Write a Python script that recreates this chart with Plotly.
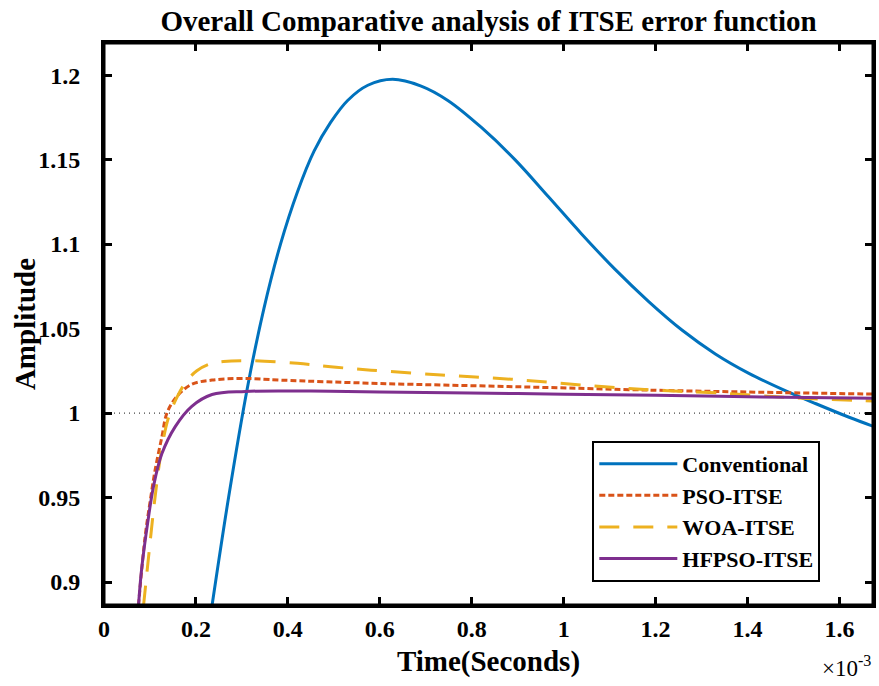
import plotly.graph_objects as go

# Time values in units of 1e-3 s
conv_t = [0.235, 0.271, 0.312, 0.348, 0.384, 0.421, 0.457, 0.493, 0.530, 0.574, 0.628, 0.690,
          0.748, 0.821, 0.894, 0.967, 1.039, 1.112, 1.185, 1.258, 1.330, 1.403, 1.476, 1.549, 1.621, 1.680]
conv_y = [0.886, 0.950, 1.015, 1.062, 1.100, 1.131, 1.155, 1.172, 1.185, 1.194, 1.1975, 1.1935,
          1.185, 1.169, 1.150, 1.128, 1.106, 1.085, 1.066, 1.049, 1.035, 1.0235, 1.014, 1.0055, 0.9975, 0.9915]

pso_t = [0.075, 0.0895, 0.100, 0.111, 0.126, 0.137, 0.159, 0.191, 0.235, 0.300, 0.384, 0.600, 0.894, 1.200, 1.432, 1.680]
pso_y = [0.886, 0.927, 0.947, 0.966, 0.986, 1.000, 1.010, 1.017, 1.0195, 1.0205, 1.0195, 1.0175, 1.0156, 1.0135, 1.0123, 1.0112]

woa_t = [0.086, 0.097, 0.111, 0.125, 0.140, 0.160, 0.180, 0.202, 0.230, 0.260, 0.310, 0.421, 0.493, 0.581, 0.734, 0.886, 1.039, 1.192, 1.330, 1.500, 1.680]
woa_y = [0.886, 0.915, 0.950, 0.978, 0.997, 1.010, 1.019, 1.025, 1.029, 1.0305, 1.031, 1.0294, 1.0274, 1.0254, 1.0225, 1.020, 1.0166, 1.0136, 1.012, 1.009, 1.007]

hf_t = [0.075, 0.082, 0.095, 0.108, 0.126, 0.155, 0.191, 0.235, 0.308, 0.450, 0.600, 0.900, 1.200, 1.432, 1.680]
hf_y = [0.886, 0.908, 0.935, 0.957, 0.976, 0.992, 1.004, 1.011, 1.0128, 1.013, 1.0125, 1.0115, 1.0105, 1.0095, 1.0088]

series_names = ["Conventional", "PSO-ITSE", "WOA-ITSE", "HFPSO-ITSE"]
x_ticks = [0, 0.2, 0.4, 0.6, 0.8, 1.0, 1.2, 1.4, 1.6]
x_ticklabels = ["0", "0.2", "0.4", "0.6", "0.8", "1", "1.2", "1.4", "1.6"]
y_ticks = [0.9, 0.95, 1.0, 1.05, 1.1, 1.15, 1.2]
y_ticklabels = ["0.9", "0.95", "1", "1.05", "1.1", "1.15", "1.2"]
ref_level = 1.0
x_range = [0, 1.673]
y_range = [0.8864, 1.219]

FONT = "Liberation Serif"

fig = go.Figure()
fig.add_trace(go.Scatter(x=conv_t, y=conv_y, mode="lines", name=series_names[0],
                         line=dict(color="#0072BD", width=3, shape="spline")))
fig.add_trace(go.Scatter(x=pso_t, y=pso_y, mode="lines", name=series_names[1],
                         line=dict(color="#D95319", width=3, dash="6px,3px", shape="spline")))
fig.add_trace(go.Scatter(x=woa_t, y=woa_y, mode="lines", name=series_names[2],
                         line=dict(color="#EDB120", width=3, dash="20px,14px", shape="spline")))
fig.add_trace(go.Scatter(x=hf_t, y=hf_y, mode="lines", name=series_names[3],
                         line=dict(color="#7E2F8E", width=3, shape="spline")))
# empty helper trace so the top/right mirror axes are drawn
fig.add_trace(go.Scatter(x=[], y=[], xaxis="x2", yaxis="y2", showlegend=False, hoverinfo="skip"))

fig.add_hline(y=ref_level, line=dict(color="#444444", width=1.2, dash="1px,4px"), layer="below")

tick_style = dict(ticks="inside", ticklen=8, tickwidth=2.5, tickcolor="black",
                  showgrid=False, zeroline=False, showline=True, linecolor="black", linewidth=3)
tfont = dict(family=FONT, size=24, color="black", weight="bold")

fig.update_layout(
    xaxis=dict(range=x_range, tickvals=x_ticks, ticktext=x_ticklabels, tickfont=tfont,
               title=dict(text="Time(Seconds)", font=dict(family=FONT, size=29, color="black", weight="bold"),
                          standoff=10),
               **tick_style),
    yaxis=dict(range=y_range, tickvals=y_ticks, ticktext=y_ticklabels, tickfont=tfont,
               ticklabelstandoff=16, **tick_style),
    xaxis2=dict(range=x_range, tickvals=x_ticks, showticklabels=False, overlaying="x",
                side="top", anchor="y", **tick_style),
    yaxis2=dict(range=y_range, tickvals=y_ticks, showticklabels=False, overlaying="y",
                side="right", anchor="x", **tick_style),
)

# y-axis title placed as a rotated annotation to match the reference position
fig.add_annotation(text="Amplitude", xref="paper", yref="paper", x=-0.1026, y=0.5,
                   xanchor="center", yanchor="middle", textangle=-90, showarrow=False,
                   font=dict(family=FONT, size=29, color="black", weight="bold"))

fig.add_annotation(text="×10<sup>-3</sup>", xref="paper", yref="paper", x=1.0, y=-0.08,
                   xanchor="right", yanchor="top", showarrow=False,
                   font=dict(family=FONT, size=23, color="black"))

fig.add_shape(type="rect", xref="paper", yref="paper", x0=0, x1=1, y0=0, y1=1,
              line=dict(color="black", width=3), fillcolor="rgba(0,0,0,0)", layer="above")

fig.update_layout(
    width=879, height=686,
    margin=dict(l=104, r=6, t=43, b=81, autoexpand=False),
    paper_bgcolor="white", plot_bgcolor="white",
    title=dict(text="Overall Comparative analysis of ITSE error function", x=0.5, xref="paper",
               y=1 - 21 / 686, yref="container", yanchor="middle",
               font=dict(family=FONT, size=29, color="black", weight="bold")),
    legend=dict(x=0.635, y=0.292, xanchor="left", yanchor="top",
                bordercolor="black", borderwidth=2, bgcolor="white",
                itemwidth=78, tracegroupgap=0,
                font=dict(family=FONT, size=22, color="black", weight="bold")),
    showlegend=True,
)

fig.write_html("out.html", config={"displayModeBar": False},
               post_script="document.body.style.margin='0px';")
